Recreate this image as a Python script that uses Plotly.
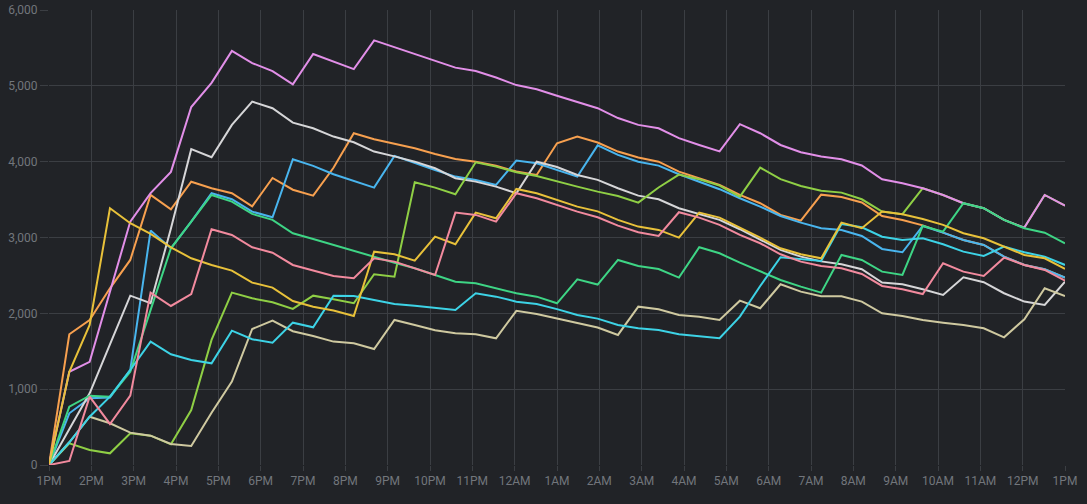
import pandas as pd
import plotly.graph_objects as go

times = pd.date_range("2024-01-01 13:00", "2024-01-02 13:00", periods=51)

violet = [0, 1230, 1360, 2290, 3210, 3585, 3865, 4720, 5040, 5460, 5300, 5195, 5020, 5420, 5315, 5220, 5600, 5510, 5420, 5330, 5240, 5195, 5110, 5010, 4955, 4870, 4785, 4705, 4575, 4485, 4440, 4310, 4220, 4135, 4495, 4375, 4220, 4125, 4067, 4032, 3950, 3768, 3716, 3650, 3561, 3452, 3386, 3232, 3130, 3561, 3420]
gray = [0, 470, 945, 1590, 2233, 2133, 3120, 4165, 4058, 4485, 4792, 4705, 4515, 4441, 4331, 4256, 4133, 4070, 4000, 3913, 3781, 3737, 3671, 3584, 4000, 3930, 3825, 3760, 3650, 3552, 3504, 3386, 3311, 3232, 3109, 2977, 2836, 2748, 2685, 2647, 2581, 2405, 2383, 2317, 2242, 2476, 2410, 2265, 2155, 2110, 2418]
orange = [0, 1724, 1912, 2330, 2704, 3561, 3372, 3735, 3650, 3584, 3410, 3785, 3630, 3552, 3920, 4375, 4296, 4238, 4177, 4100, 4034, 4000, 3945, 3870, 3825, 4243, 4331, 4252, 4133, 4054, 4000, 3869, 3781, 3693, 3561, 3452, 3298, 3222, 3565, 3535, 3462, 3284, 3232, 3160, 3064, 2968, 2902, 2748, 2638, 2581, 2471]
blue = [0, 682, 880, 890, 1253, 3091, 2858, 3209, 3584, 3505, 3341, 3267, 4032, 3944, 3834, 3750, 3658, 4076, 3979, 3891, 3803, 3759, 3693, 4014, 3979, 3891, 3803, 4215, 4089, 4000, 3948, 3834, 3740, 3637, 3518, 3407, 3284, 3196, 3122, 3100, 3020, 2849, 2805, 3152, 3064, 2968, 2902, 2748, 2638, 2581, 2471]
green = [0, 769, 914, 901, 1231, 2050, 2858, 3209, 3561, 3473, 3311, 3232, 3056, 2981, 2902, 2827, 2740, 2668, 2594, 2506, 2418, 2396, 2330, 2264, 2220, 2132, 2449, 2380, 2704, 2625, 2585, 2471, 2871, 2792, 2668, 2559, 2440, 2352, 2273, 2770, 2704, 2550, 2506, 3152, 3077, 3452, 3386, 3232, 3122, 3064, 2924]
lime = [0, 286, 198, 154, 418, 387, 273, 725, 1649, 2273, 2198, 2146, 2058, 2233, 2186, 2133, 2515, 2484, 3729, 3658, 3570, 3992, 3935, 3861, 3812, 3737, 3671, 3605, 3548, 3460, 3660, 3830, 3769, 3684, 3539, 3922, 3769, 3680, 3618, 3592, 3504, 3342, 3307, 3650, 3561, 3452, 3386, 3232, 3130, 3561, 3420]
pink = [0, 53, 901, 541, 914, 2273, 2097, 2255, 3109, 3034, 2871, 2800, 2638, 2563, 2493, 2462, 2726, 2682, 2594, 2506, 3328, 3298, 3209, 3584, 3518, 3430, 3341, 3267, 3157, 3069, 3020, 3333, 3262, 3166, 3034, 2924, 2779, 2682, 2625, 2594, 2519, 2361, 2317, 2255, 2660, 2550, 2493, 2734, 2638, 2572, 2431]
yellow = [0, 1230, 1847, 3386, 3188, 3047, 2871, 2726, 2638, 2563, 2405, 2339, 2163, 2088, 2036, 1965, 2813, 2779, 2695, 3011, 2911, 3328, 3254, 3640, 3584, 3495, 3407, 3345, 3232, 3144, 3100, 2999, 3328, 3262, 3135, 2999, 2858, 2779, 2726, 3196, 3122, 3342, 3307, 3245, 3166, 3056, 2990, 2880, 2770, 2726, 2585]
cyan = [0, 300, 637, 901, 1253, 1627, 1460, 1385, 1341, 1771, 1658, 1613, 1877, 1816, 2233, 2229, 2176, 2124, 2101, 2075, 2044, 2264, 2220, 2154, 2124, 2056, 1978, 1930, 1847, 1803, 1781, 1724, 1702, 1671, 1956, 2360, 2740, 2715, 2691, 3179, 3135, 3011, 2968, 2990, 2911, 2814, 2757, 2880, 2805, 2748, 2638]
khaki = [0, 300, 637, 550, 427, 387, 277, 251, 690, 1099, 1794, 1904, 1764, 1702, 1627, 1605, 1530, 1913, 1847, 1776, 1737, 1724, 1671, 2033, 1992, 1930, 1865, 1813, 1715, 2088, 2054, 1978, 1956, 1913, 2167, 2067, 2383, 2286, 2225, 2225, 2154, 2001, 1965, 1913, 1877, 1847, 1803, 1684, 1922, 2330, 2229]

series = [
    ("orange", orange, "#f7a04f"),
    ("blue", blue, "#49b5ee"),
    ("gray", gray, "#d6d6d8"),
    ("lime", lime, "#8fcf45"),
    ("violet", violet, "#e28fe8"),
    ("green", green, "#3ed585"),
    ("khaki", khaki, "#cfc9a0"),
    ("cyan", cyan, "#3dd3e6"),
    ("yellow", yellow, "#e8c13a"),
    ("pink", pink, "#f28a9e"),
]

fig = go.Figure()
for name, vals, color in series:
    fig.add_trace(go.Scatter(x=times, y=vals, mode="lines", name=name,
                             line=dict(color=color, width=2)))

bg = "#212327"
grid = "#3b3e43"
tickfont = dict(family="Roboto, Arial, sans-serif", size=12, color="#72767c")

fig.update_layout(
    width=1087, height=504,
    margin=dict(l=49, r=22, t=10, b=39),
    paper_bgcolor=bg, plot_bgcolor=bg,
    showlegend=False,
    xaxis=dict(
        range=[times[0], times[-1]],
        tickformat="%-I%p", dtick=3600000, tick0=times[0],
        showgrid=True, gridcolor=grid, gridwidth=1,
        ticks="outside", ticklen=5, tickcolor=grid,
        showline=False, zeroline=False, tickfont=tickfont,
        automargin=False,
    ),
    yaxis=dict(
        range=[0, 6000], dtick=1000, tickformat=",",
        showgrid=True, gridcolor=grid, gridwidth=1,
        ticks="outside", ticklen=8, tickcolor=grid,
        showline=False, zeroline=False, tickfont=tickfont,
        automargin=False,
    ),
)

fig.write_html("out.html")
